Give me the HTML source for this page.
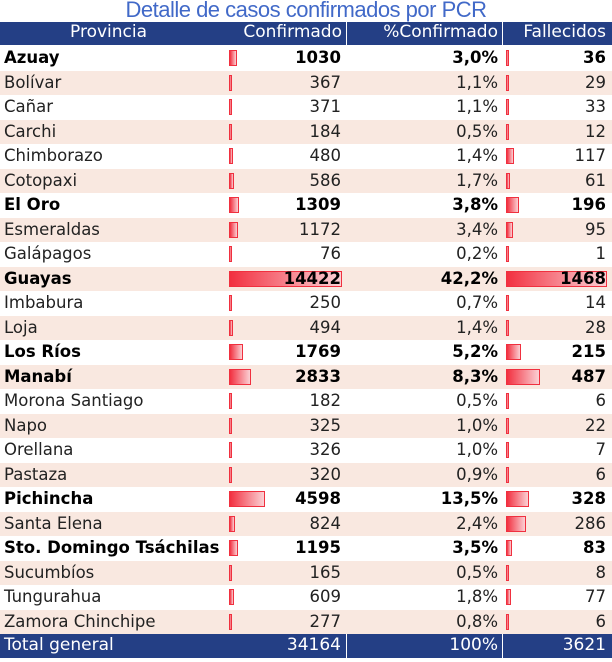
<!DOCTYPE html>
<html><head><meta charset="utf-8"><style>
body{margin:0;width:612px;height:662px;background:#fff;font-family:"DejaVu Sans","Liberation Sans",sans-serif;overflow:hidden;position:relative}
#title{position:absolute;left:0;width:612px;top:-3px;text-align:center;color:#4169C8;font-size:22px;letter-spacing:-0.5px;font-family:"Liberation Sans",sans-serif}
.hdr,.tot{position:absolute;left:0;width:612px;height:23px;background:#243F85;color:#fff;font-size:17px}
.row{position:absolute;left:0;width:612px;height:24.5px;font-size:16.5px;color:#222}
.row.s{background:#F9E8E0}
.row.b{font-weight:bold;color:#000}
.c{position:absolute;top:2px;white-space:nowrap}
.bar{position:absolute;height:16px;top:4px;box-sizing:border-box;border:1.5px solid #F0303F;background:linear-gradient(to right,#F23040,#FBD0D4)}
.sep{position:absolute;top:0;height:23px;width:1px;background:#fff}
</style></head><body>
<div id="title">Detalle de casos confirmados por PCR</div>
<div class="hdr" style="top:22px">
<span class="c" style="left:70px;top:0">Provincia</span>
<span class="c" style="right:270px;top:0">Confirmado</span>
<span class="c" style="right:114px;top:0">%Confirmado</span>
<span class="c" style="right:6px;top:0">Fallecidos</span>
<div class="sep" style="left:346px"></div><div class="sep" style="left:502px"></div>
</div>
<div id="rows"></div>
<div class="tot" style="top:634px;height:24px">
<span class="c" style="left:4px;top:1px">Total general</span>
<span class="c" style="right:271px;top:1px">34164</span>
<span class="c" style="right:114px;top:1px">100%</span>
<span class="c" style="right:6px;top:1px">3621</span>
<div class="sep" style="left:346px;height:24px"></div><div class="sep" style="left:502px;height:24px"></div>
</div>
<script>
const provinces=["Azuay","Bolívar","Cañar","Carchi","Chimborazo","Cotopaxi","El Oro","Esmeraldas","Galápagos","Guayas","Imbabura","Loja","Los Ríos","Manabí","Morona Santiago","Napo","Orellana","Pastaza","Pichincha","Santa Elena","Sto. Domingo Tsáchilas","Sucumbíos","Tungurahua","Zamora Chinchipe"];
const confirmed=[1030,367,371,184,480,586,1309,1172,76,14422,250,494,1769,2833,182,325,326,320,4598,824,1195,165,609,277];
const pct=["3,0%","1,1%","1,1%","0,5%","1,4%","1,7%","3,8%","3,4%","0,2%","42,2%","0,7%","1,4%","5,2%","8,3%","0,5%","1,0%","1,0%","0,9%","13,5%","2,4%","3,5%","0,5%","1,8%","0,8%"];
const deaths=[36,29,33,12,117,61,196,95,1,1468,14,28,215,487,6,22,7,6,328,286,83,8,77,6];
const bold=[0,6,9,12,13,18,20];
const xConf=v=>Math.max(3,v/14422*113);
const xDeath=v=>Math.max(3,v/1468*101);
const root=document.getElementById('rows');
provinces.forEach((p,i)=>{
 const r=document.createElement('div');
 r.className='row'+(i%2?' s':'')+(bold.includes(i)?' b':'');
 r.style.top=(46+i*24.5)+'px';
 
 
 r.innerHTML=`<span class="c" style="left:4px">${p}</span>
 <div class="bar" style="left:229px;width:${xConf(confirmed[i])}px"></div>
 <span class="c" style="right:271px">${confirmed[i]}</span>
 <span class="c" style="right:114px">${pct[i]}</span>
 <div class="bar" style="left:506px;width:${xDeath(deaths[i])}px"></div>
 <span class="c" style="right:6px">${deaths[i]}</span>`;
 root.appendChild(r);
});
</script>
</body></html>
